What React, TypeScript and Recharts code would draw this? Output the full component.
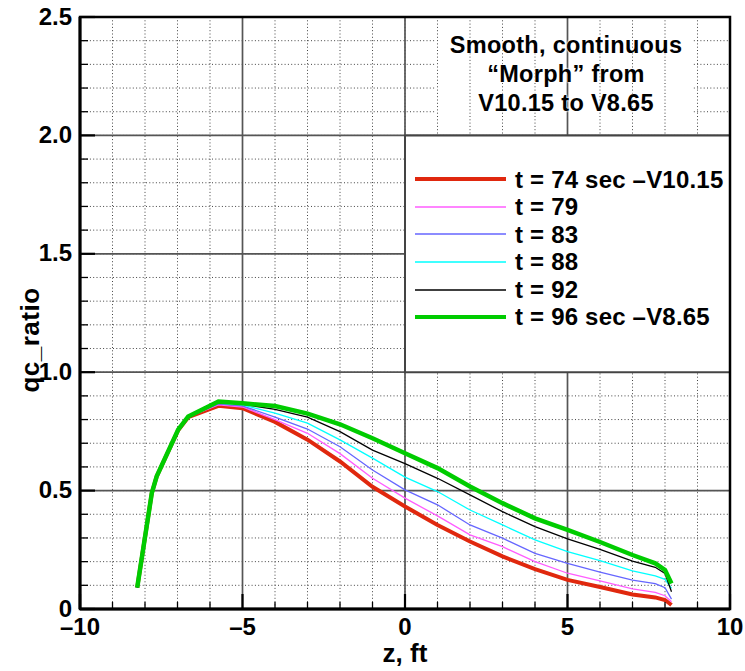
import React from 'react';
import { LineChart, Line, XAxis, YAxis, CartesianGrid, ReferenceArea, Legend } from 'recharts';

if (typeof document !== 'undefined') {
  document.body.style.margin = '0';
}

// ---- data ----
const zValues = [-8.24, -7.79, -7.64, -6.98, -6.67, -5.74, -5, -4, -3, -2, -1, 0, 1, 2, 3, 4, 5, 6, 7, 7.7, 8.0, 8.2];
const qc74 = [0.09, 0.49, 0.56, 0.755, 0.81, 0.858, 0.848, 0.79, 0.715, 0.623, 0.516, 0.433, 0.355, 0.285, 0.222, 0.168, 0.123, 0.093, 0.061, 0.049, 0.038, 0.017];
const qc79 = [0.09, 0.49, 0.56, 0.756, 0.811, 0.862, 0.853, 0.8, 0.742, 0.656, 0.552, 0.468, 0.393, 0.313, 0.263, 0.2, 0.151, 0.119, 0.085, 0.07, 0.056, 0.031];
const qc83 = [0.09, 0.49, 0.56, 0.756, 0.812, 0.866, 0.858, 0.81, 0.76, 0.685, 0.587, 0.503, 0.44, 0.355, 0.299, 0.235, 0.193, 0.156, 0.122, 0.107, 0.09, 0.042];
const qc88 = [0.09, 0.49, 0.56, 0.757, 0.812, 0.87, 0.862, 0.827, 0.785, 0.714, 0.637, 0.557, 0.496, 0.418, 0.355, 0.292, 0.242, 0.204, 0.161, 0.14, 0.125, 0.087];
const qc92 = [0.09, 0.49, 0.56, 0.757, 0.813, 0.873, 0.865, 0.843, 0.81, 0.749, 0.671, 0.614, 0.552, 0.482, 0.411, 0.348, 0.296, 0.252, 0.202, 0.176, 0.15, 0.073];
const qc96 = [0.09, 0.49, 0.56, 0.757, 0.813, 0.876, 0.869, 0.857, 0.825, 0.78, 0.721, 0.658, 0.595, 0.517, 0.447, 0.383, 0.334, 0.283, 0.228, 0.193, 0.165, 0.108];

const seriesNames = ['t = 74 sec \u2013V10.15', 't = 79', 't = 83', 't = 88', 't = 92', 't = 96 sec \u2013V8.65'];
const seriesKeys = ['t74', 't79', 't83', 't88', 't92', 't96'];
const seriesValues = [qc74, qc79, qc83, qc88, qc92, qc96];

const xMinorTicks = [-10, -9, -8, -7, -6, -5, -4, -3, -2, -1, 0, 1, 2, 3, 4, 5, 6, 7, 8, 9, 10];
const xMajorTicks = [-10, -5, 0, 5, 10];
const yMinorTicks = [0, 0.1, 0.2, 0.3, 0.4, 0.5, 0.6, 0.7, 0.8, 0.9, 1, 1.1, 1.2, 1.3, 1.4, 1.5, 1.6, 1.7, 1.8, 1.9, 2, 2.1, 2.2, 2.3, 2.4, 2.5];
const yMajorTicks = [0, 0.5, 1, 1.5, 2, 2.5];

const titleLines = ['Smooth, continuous', '\u201CMorph\u201D from', 'V10.15 to V8.65'];
const xTitle = 'z, ft';
const yTitle = 'qc_ratio';

// ---- styles ----
const seriesStyles = [
  { color: '#e0280e', width: 4 },
  { color: '#ff5cff', width: 1.3 },
  { color: '#6666ff', width: 1.3 },
  { color: '#00ffff', width: 1.3 },
  { color: '#000000', width: 1.3 },
  { color: '#00cc00', width: 4.5 },
];

const FONT = "'Liberation Sans', Arial, Helvetica, sans-serif";

const rows = zValues.map((z, i) => {
  const r: any = { z };
  seriesKeys.forEach((k, j) => {
    r[k] = seriesValues[j][i];
  });
  return r;
});

const isIn = (arr: number[], v: number) => arr.some((a) => Math.abs(a - v) < 1e-9);

const fmtX = (v: number) => (v < 0 ? '\u2013' + Math.abs(v) : String(v));
const fmtY = (v: number) => (v === 0 ? '0' : v.toFixed(1));

const renderXTick = (props: any) => {
  const { x, y, payload } = props;
  const v = Number(payload.value);
  const major = isIn(xMajorTicks, v);
  return (
    <g>
      <line x1={x} x2={x} y1={y} y2={y - (major ? 15 : 7)} stroke="#000" strokeWidth={major ? 2.2 : 1.3} />
      {major && (
        <text x={x} y={y + 26} textAnchor="middle" fontSize={24} fontWeight={700} fontFamily={FONT} fill="#000">
          {fmtX(v)}
        </text>
      )}
    </g>
  );
};

const renderYTick = (props: any) => {
  const { x, y, payload } = props;
  const v = Number(payload.value);
  const major = isIn(yMajorTicks, v);
  return (
    <g>
      <line x1={x} x2={x + (major ? 15 : 8)} y1={y} y2={y} stroke="#000" strokeWidth={major ? 2.2 : 1.3} />
      {major && (
        <text x={x - 8} y={y + 7.5} textAnchor="end" fontSize={24} fontWeight={700} fontFamily={FONT} fill="#000">
          {fmtY(v)}
        </text>
      )}
    </g>
  );
};

const renderXLabel = (p: any) => {
  const vb = p.viewBox || {};
  return (
    <text x={vb.x + vb.width / 2} y={vb.y + 53} textAnchor="middle" fontSize={26} fontWeight={700} fontFamily={FONT} fill="#000">
      {xTitle}
    </text>
  );
};

const renderYLabel = (p: any) => {
  const vb = p.viewBox || {};
  const cx = vb.x + 30;
  const cy = vb.y + vb.height / 2 + 27;
  return (
    <text x={cx} y={cy} transform={`rotate(-90 ${cx} ${cy})`} textAnchor="middle" dominantBaseline="central" fontSize={26} fontWeight={700} letterSpacing={0.5} fontFamily={FONT} fill="#000">
      {yTitle}
    </text>
  );
};

const renderLegend = () => (
  <div style={{ fontFamily: FONT, fontWeight: 700, fontSize: 24, letterSpacing: 0.2, color: '#000' }}>
    {seriesNames.map((name, i) => (
      <div key={seriesKeys[i]} style={{ display: 'flex', alignItems: 'center', height: 27.6, whiteSpace: 'nowrap' }}>
        <svg width={91} height={8} style={{ marginRight: 9, display: 'block' }}>
          <line x1={0} x2={91} y1={4} y2={4} stroke={seriesStyles[i].color} strokeWidth={Math.min(seriesStyles[i].width, 4)} />
        </svg>
        <span style={{ lineHeight: '27.6px' }}>{name}</span>
      </div>
    ))}
  </div>
);

export default function App() {
  return (
    <div style={{ position: 'relative', width: 745, height: 671, background: '#fff' }}>
      <LineChart width={745} height={671} data={rows} margin={{ top: 17, right: 15, bottom: 0, left: 0 }}>
        <CartesianGrid horizontal vertical={false} horizontalValues={yMinorTicks} stroke="#444" strokeWidth={1} strokeDasharray="1 2.3" zIndex={-100} />
        <ReferenceArea x1={0.92} x2={8.87} y1={2.05} y2={2.5} fill="#fff" fillOpacity={1} stroke="none" ifOverflow="visible" zIndex={-95} />
        <CartesianGrid horizontal={false} vertical verticalValues={xMinorTicks} stroke="#444" strokeWidth={1} strokeDasharray="1 2.3" zIndex={-90} />
        <CartesianGrid horizontal vertical horizontalValues={yMajorTicks} verticalValues={xMajorTicks} stroke="#555" strokeWidth={1.7} zIndex={-85} />
        <ReferenceArea x1={0} x2={10} y1={1} y2={2} fill="#fff" fillOpacity={1} stroke="#444" strokeWidth={2} ifOverflow="visible" zIndex={-80} />
        {seriesKeys.map((k, i) => (
          <Line
            key={k}
            type="linear"
            dataKey={k}
            name={seriesNames[i]}
            stroke={seriesStyles[i].color}
            strokeWidth={seriesStyles[i].width}
            dot={false}
            activeDot={false}
            isAnimationActive={false}
          />
        ))}
        <ReferenceArea x1={-10} x2={10} y1={0} y2={2.5} fill="none" fillOpacity={0} stroke="#000" strokeWidth={2.5} ifOverflow="visible" zIndex={600} />
        <XAxis
          type="number"
          dataKey="z"
          domain={[-10, 10]}
          ticks={xMinorTicks}
          interval={0}
          allowDataOverflow
          height={62}
          tickSize={0}
          tickMargin={0}
          tickLine={false}
          axisLine={{ stroke: '#000', strokeWidth: 3 }}
          tick={renderXTick}
          label={renderXLabel}
        />
        <YAxis
          type="number"
          domain={[0, 2.5]}
          ticks={yMinorTicks}
          interval={0}
          allowDataOverflow
          width={80}
          tickSize={0}
          tickMargin={0}
          tickLine={false}
          axisLine={{ stroke: '#000', strokeWidth: 3 }}
          tick={renderYTick}
          label={renderYLabel}
        />
        <Legend
          layout="vertical"
          align="center"
          verticalAlign="middle"
          wrapperStyle={{ position: 'absolute', left: 415, top: 165.5, width: 325, height: 'auto', margin: 0, padding: 0 }}
          content={renderLegend}
        />
      </LineChart>
      <div
        style={{
          position: 'absolute',
          left: 416,
          top: 31,
          width: 300,
          textAlign: 'center',
          fontFamily: FONT,
          fontWeight: 700,
          fontSize: 23.5,
          letterSpacing: 0.3,
          lineHeight: '29px',
          color: '#000',
          whiteSpace: 'nowrap',
          textShadow: '0 0 2px #fff, 0 0 2px #fff, 0 0 2px #fff',
          pointerEvents: 'none',
        }}
      >
        {titleLines.map((t) => (
          <div key={t}>{t}</div>
        ))}
      </div>
    </div>
  );
}
